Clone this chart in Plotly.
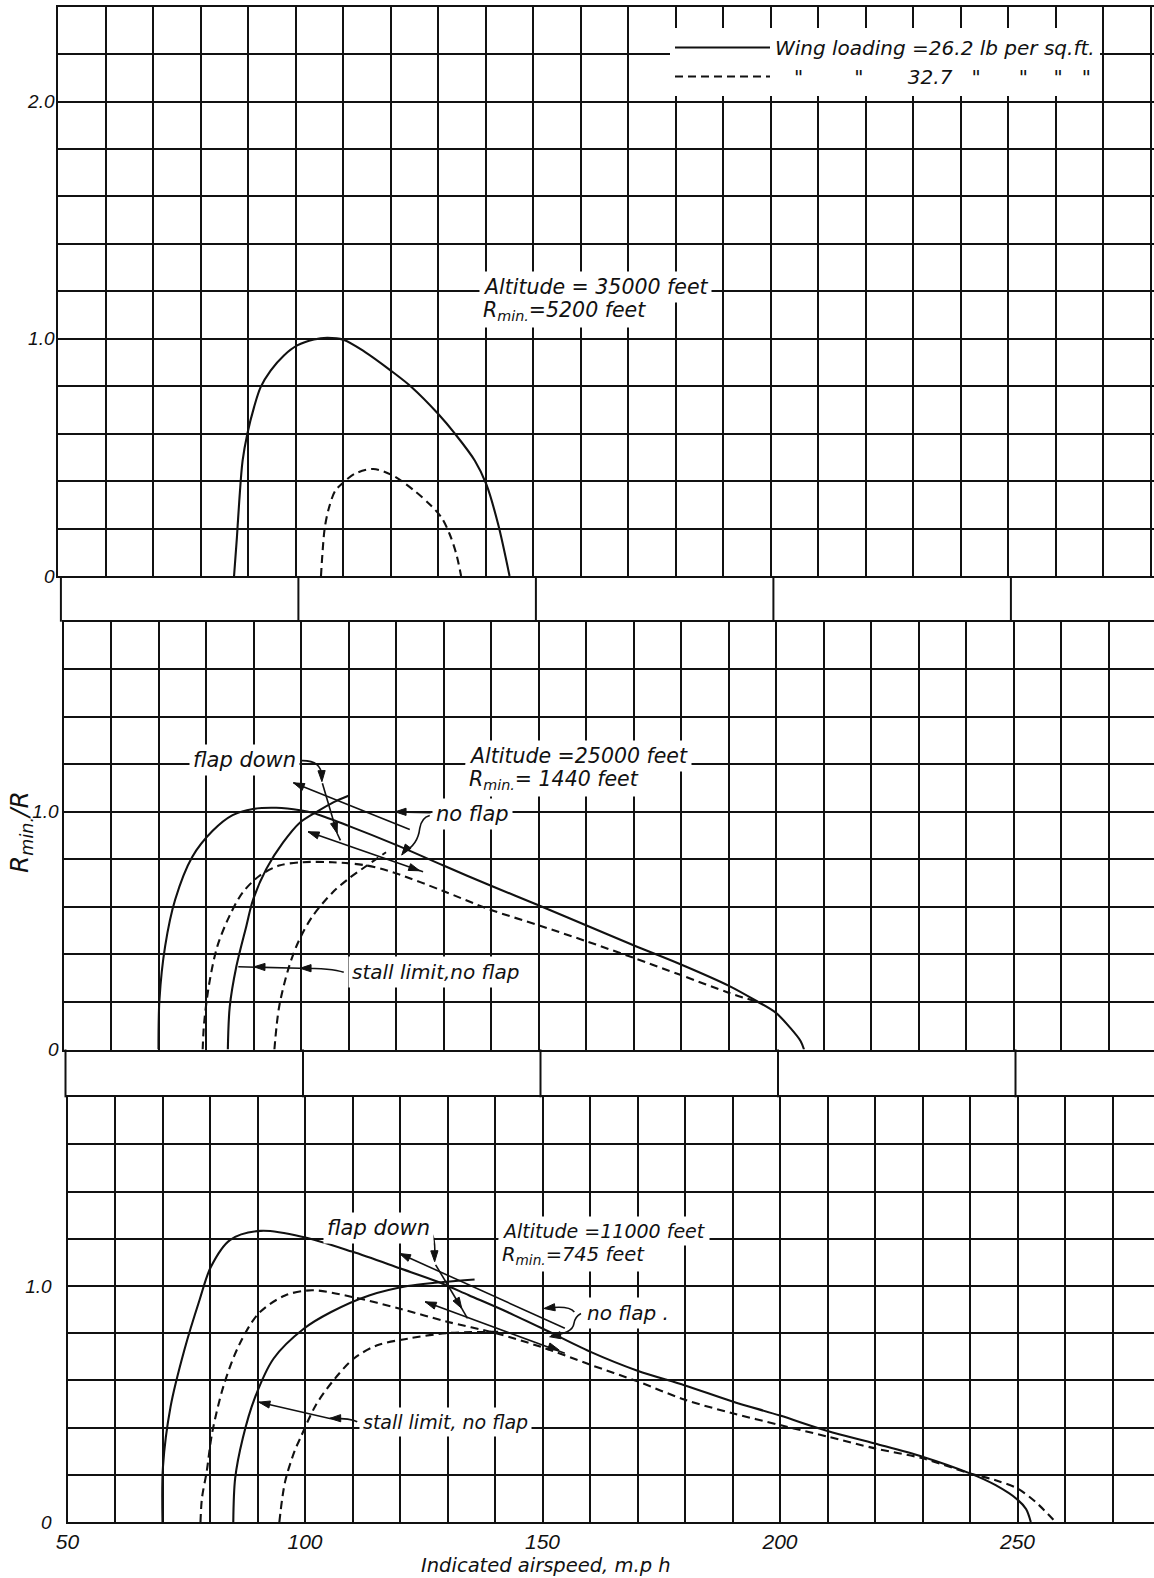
import math
import plotly.graph_objects as go

W, H = 1154, 1578

# ---------------- data ----------------
# Panel 1 : altitude 35000 ft
top_solid_x = [87.0, 87.6, 88.1, 88.8, 89.8, 91.2, 92.6, 94.7, 97.5, 100.3, 103.8, 106.6, 110.0, 114.6,
               120.0, 124.4, 130.0, 133.5, 137.7, 140.1, 142.6, 145.0]
top_solid_y = [0.0, 0.162, 0.317, 0.486, 0.6, 0.711, 0.796, 0.866, 0.93, 0.972, 0.997, 1.004, 0.996, 0.944,
               0.866, 0.796, 0.683, 0.6, 0.486, 0.387, 0.218, 0.0]
top_dash_x = [105.3, 105.6, 106.1, 107.0, 108.3, 110.0, 112.5, 116.3, 120.1, 125.0, 128.5, 130.7, 132.4, 133.8, 134.8]
top_dash_y = [0.0, 0.092, 0.204, 0.289, 0.359, 0.394, 0.432, 0.451, 0.427, 0.359, 0.296, 0.246, 0.176, 0.092, 0.0]

# Panel 2 : altitude 25000 ft
mid_solid_fd_x = [70.0, 70.2, 71.4, 73.5, 77.1, 81.4, 85.6, 89.9, 94.8, 99.8, 102.6, 110.0, 120.0, 130.0,
                  140.0, 150.0, 160.0, 170.0, 180.0, 190.0, 196.0, 200.0, 203.0, 205.2, 205.9]
mid_solid_fd_y = [0.0, 0.21, 0.435, 0.63, 0.81, 0.92, 0.986, 1.012, 1.017, 1.007, 0.995, 0.941, 0.861, 0.774,
                  0.689, 0.607, 0.523, 0.439, 0.358, 0.269, 0.203, 0.154, 0.091, 0.035, 0.0]
mid_solid_nf_x = [84.6, 85.0, 86.4, 88.5, 89.9, 92.7, 96.2, 99.8, 103.3, 106.8, 110.0]
mid_solid_nf_y = [0.0, 0.18, 0.35, 0.52, 0.63, 0.76, 0.87, 0.955, 1.0, 1.04, 1.068]
mid_dash_fd_x = [79.3, 79.6, 80.7, 82.4, 84.9, 87.7, 91.2, 95.4, 100.3, 106.6, 113.6, 119.3, 129.8, 139.6,
                 150.0, 160.0, 170.0, 180.0, 190.0, 196.8]
mid_dash_fd_y = [0.0, 0.11, 0.28, 0.435, 0.56, 0.66, 0.73, 0.774, 0.788, 0.788, 0.775, 0.746, 0.668, 0.59,
                 0.523, 0.456, 0.386, 0.313, 0.239, 0.196]
mid_dash_nf_x = [94.4, 95.4, 97.5, 99.6, 102.4, 106.6, 110.1, 113.6, 117.9]
mid_dash_nf_y = [0.0, 0.18, 0.35, 0.46, 0.56, 0.66, 0.72, 0.77, 0.83]

# Panel 3 : altitude 11000 ft
bot_solid_fd_x = [70.0, 70.1, 71.7, 74.6, 77.8, 80.2, 84.2, 90.7, 99.8, 109.9, 120.0, 128.1, 134.5,
                  142.6, 150.0, 160.0, 170.0, 180.0, 190.0, 200.0, 210.0, 220.0, 230.0, 240.0, 245.4,
                  250.0, 251.8, 252.8]
bot_solid_fd_y = [0.0, 0.234, 0.489, 0.729, 0.941, 1.082, 1.195, 1.234, 1.207, 1.146, 1.075, 1.017, 0.961,
                  0.89, 0.82, 0.722, 0.641, 0.579, 0.511, 0.451, 0.386, 0.333, 0.277, 0.206, 0.156,
                  0.095, 0.055, 0.0]
bot_solid_nf_x = [84.9, 85.3, 86.9, 89.4, 93.4, 99.8, 105.5, 113.5, 121.6, 127.3, 135.7]
bot_solid_nf_y = [0.0, 0.186, 0.355, 0.524, 0.693, 0.82, 0.89, 0.96, 1.0, 1.014, 1.028]
bot_dash_fd_x = [78.0, 78.3, 79.3, 80.5, 82.9, 86.1, 90.2, 95.8, 101.5, 109.9, 120.0, 129.7, 140.2, 150.0,
                 160.0, 170.0, 180.0, 190.0, 200.0, 210.0, 220.0, 230.0, 240.0, 245.4, 250.0, 253.8, 258.0]
bot_dash_fd_y = [0.0, 0.1, 0.214, 0.383, 0.58, 0.749, 0.883, 0.96, 0.982, 0.954, 0.904, 0.85, 0.8, 0.74,
                 0.667, 0.596, 0.518, 0.461, 0.411, 0.362, 0.312, 0.27, 0.206, 0.177, 0.142, 0.085, 0.0]
bot_dash_nf_x = [94.6, 95.8, 97.8, 99.0, 102.3, 106.3, 110.3, 115.2, 121.6, 129.7, 141.0]
bot_dash_nf_y = [0.0, 0.17, 0.3, 0.355, 0.496, 0.608, 0.693, 0.749, 0.777, 0.8, 0.806]

x_grid = list(range(50, 290, 10))
x_label_vals = [50, 100, 150, 200, 250]
x_label_text = ["50", "100", "150", "200", "250"]
y_grid_top = [round(0.2 * i, 1) for i in range(13)]
y_grid_low = [round(0.2 * i, 1) for i in range(10)]
y_label_vals_top = [0.0, 1.0, 2.0]
y_label_text_top = ["0", "1.0", "2.0"]
y_label_vals_low = [0.0, 1.0]
y_label_text_low = ["0", "1.0"]

NB = "\u00a0"
legend_solid = "Wing loading =26.2 lb per sq.ft."
legend_dash = (NB * 3 + '"' + NB * 8 + '"' + NB * 7 + "32.7" + NB * 3 + '"' + NB * 6 + '"'
               + NB * 4 + '"' + NB * 3 + '"')

# ---------------- geometry ----------------
PX_PER_MPH = 4.75
left_px = {"": 58.3, "2": 63.5, "3": 67.5}
ydom_px = {"": (6.7, 576.0), "2": (621.7, 1049.5), "3": (1097.3, 1522.0)}
Y_SCALE = {"": 237.2, "2": 237.7, "3": 236.0}

TFONT = "Liberation Sans"
AFONT = "DejaVu Sans"
BLACK = "#111111"

fig = go.Figure()

def curve(xs, ys, k, dashed, name=None, legend=False):
    fig.add_trace(go.Scatter(
        x=xs, y=ys, mode="lines", name=name, showlegend=legend,
        xaxis="x" + k, yaxis="y" + k,
        line=dict(color=BLACK, width=2.1, dash="8px,5px" if dashed else "solid",
                  shape="spline", smoothing=0.9),
        hoverinfo="skip"))

curve(top_solid_x, top_solid_y, "", False, legend_solid, True)
curve(top_dash_x, top_dash_y, "", True, legend_dash, True)
curve(mid_solid_fd_x, mid_solid_fd_y, "2", False)
curve(mid_solid_nf_x, mid_solid_nf_y, "2", False)
curve(mid_dash_fd_x, mid_dash_fd_y, "2", True)
curve(mid_dash_nf_x, mid_dash_nf_y, "2", True)
curve(bot_solid_fd_x, bot_solid_fd_y, "3", False)
curve(bot_solid_nf_x, bot_solid_nf_y, "3", False)
curve(bot_dash_fd_x, bot_dash_fd_y, "3", True)
curve(bot_dash_nf_x, bot_dash_nf_y, "3", True)

def grid_style(vals):
    return dict(tickmode="array", tickvals=vals, showgrid=True, gridcolor=BLACK,
                gridwidth=2, ticks="")

def xaxis(k, show_labels):
    l = left_px[k]
    return dict(
        domain=[l / W, 1.0], range=[50, 50 + (W - l) / PX_PER_MPH],
        tickmode="array", tickvals=x_label_vals, ticktext=x_label_text,
        showticklabels=show_labels, ticks="",
        tickfont=dict(family=TFONT, size=21, color=BLACK, style="italic"),
        automargin=False, minor=grid_style(x_grid),
        showgrid=True, gridcolor=BLACK, gridwidth=2,
        showline=True, linecolor=BLACK, linewidth=2, mirror=True,
        zeroline=False, fixedrange=True, anchor="y" + k)

def yaxis(k, grid, vals, texts, standoff):
    t, b = ydom_px[k]
    return dict(
        domain=[1 - b / H, 1 - t / H], range=[0, grid[-1]],
        tickmode="array", tickvals=vals, ticktext=texts, ticks="",
        tickfont=dict(family=TFONT, size=19, color=BLACK, style="italic"),
        ticklabelstandoff=standoff, automargin=False, minor=grid_style(grid),
        showgrid=True, gridcolor=BLACK, gridwidth=2,
        showline=True, linecolor=BLACK, linewidth=2, mirror=False,
        zeroline=False, fixedrange=True, anchor="x" + k)

fig.update_layout(
    width=W, height=H, margin=dict(l=0, r=0, t=0, b=0, autoexpand=False),
    paper_bgcolor="white", plot_bgcolor="white",
    xaxis=xaxis("", False),
    yaxis=yaxis("", y_grid_top, y_label_vals_top, y_label_text_top, -2),
    xaxis2=xaxis("2", False),
    yaxis2=yaxis("2", y_grid_low, y_label_vals_low, y_label_text_low, -1),
    xaxis3=xaxis("3", True),
    yaxis3=yaxis("3", y_grid_low, y_label_vals_low, y_label_text_low, 10),
    legend=dict(x=670 / W, y=1 - 28 / H, xanchor="left", yanchor="top",
                bgcolor="white", borderwidth=0, itemwidth=95,
                font=dict(family=AFONT, size=20, color=BLACK, style="italic"),
                tracegroupgap=0),
    showlegend=True,
)

shapes = []
# vertical rules crossing the white bands between panels
for (ytop, ybot, off) in [(576.0, 621.7, 60.9), (1049.5, 1097.3, 65.5)]:
    for xv in [50, 100, 150, 200, 250]:
        xp = (off + (xv - 50) * PX_PER_MPH) / W
        shapes.append(dict(type="line", xref="paper", yref="paper", x0=xp, x1=xp,
                           y0=1 - ybot / H, y1=1 - ytop / H,
                           line=dict(color=BLACK, width=2)))

def path(k, d):
    shapes.append(dict(type="path", xref="x" + k, yref="y" + k, path=d,
                       line=dict(color=BLACK, width=1.6)))

def arrow(k, head, tail, line=True, L=11.0, w=3.6):
    """Leader line with a filled arrow head, sized in screen pixels."""
    ys = Y_SCALE[k]
    hx, hy = head[0] * PX_PER_MPH, head[1] * ys
    tx, ty = tail[0] * PX_PER_MPH, tail[1] * ys
    dx, dy = tx - hx, ty - hy
    n = math.hypot(dx, dy)
    ux, uy = dx / n, dy / n
    bx, by = hx + ux * L, hy + uy * L
    px, py = -uy, ux
    p1 = ((bx + px * w) / PX_PER_MPH, (by + py * w) / ys)
    p2 = ((bx - px * w) / PX_PER_MPH, (by - py * w) / ys)
    if line:
        shapes.append(dict(type="line", xref="x" + k, yref="y" + k,
                           x0=head[0], y0=head[1], x1=tail[0], y1=tail[1],
                           line=dict(color=BLACK, width=1.6)))
    shapes.append(dict(type="path", xref="x" + k, yref="y" + k,
                       path=f"M {head[0]},{head[1]} L {p1[0]},{p1[1]} L {p2[0]},{p2[1]} Z",
                       fillcolor=BLACK, line=dict(color=BLACK, width=1)))

annotations = []
afont = dict(family=AFONT, size=21, color=BLACK, style="italic")

def text(k, x, y, s, size=21, anchor="left"):
    annotations.append(dict(x=x, y=y, xref="x" + k, yref="y" + k, text=s, showarrow=False,
                            xanchor=anchor, yanchor="middle", bgcolor="white", borderpad=3,
                            font=dict(afont, size=size)))

# Panel 1 labels
text("", 138.6, 1.218, "Altitude = 35000 feet", size=20.5)
text("", 138.6, 1.117, "R<sub>min.</sub>=5200 feet", size=20.5)

# Panel 2 labels and leaders
text("2", 134.6, 1.235, "Altitude =25000 feet", size=20.5)
text("2", 134.6, 1.134, "R<sub>min.</sub>= 1440 feet", size=20.5)
text("2", 88.0, 1.218, "flap down", size=21, anchor="center")
text("2", 127.6, 0.99, "no flap")
text("2", 109.8, 0.327, "stall limit,no flap", size=20)
arrow("2", (98.4, 1.122), (122.9, 0.926))
arrow("2", (101.5, 0.916), (125.7, 0.748))
arrow("2", (125.0, 0.752), (122.5, 0.770), line=False)
path("2", "M 99.8,1.215 Q 104.6,1.22 104.4,1.14")
arrow("2", (104.4, 1.127), (104.35, 1.16), line=False)
arrow("2", (107.6, 0.91), (104.5, 1.12))
path("2", "M 107.6,0.91 L 108.3,0.88")
path("2", "M 127.3,0.996 L 119.8,1.0")
arrow("2", (119.8, 1.0), (121.5, 1.0), line=False)
path("2", "M 127.1,0.985 Q 125.3,0.975 125.0,0.93 Q 124.6,0.86 121.6,0.83")
arrow("2", (121.2, 0.818), (122.0, 0.84), line=False)
path("2", "M 109.0,0.325 Q 106.5,0.342 99.8,0.342 L 86.8,0.348")
arrow("2", (99.8, 0.342), (102.5, 0.342), line=False)
arrow("2", (90.1, 0.348), (92.8, 0.347), line=False)

# Panel 3 labels and leaders
text("3", 140.6, 1.233, "Altitude =11000 feet", size=19)
text("3", 140.6, 1.131, "R<sub>min.</sub>=745 feet", size=19.5)
text("3", 115.4, 1.246, "flap down", size=21, anchor="center")
text("3", 158.6, 0.886, "no flap .", size=20)
text("3", 111.4, 0.424, "stall limit, no flap", size=19)
arrow("3", (119.9, 1.138), (154.7, 0.821))
arrow("3", (125.3, 0.933), (154.7, 0.715))
arrow("3", (153.5, 0.729), (150.5, 0.75), line=False)
path("3", "M 125.4,1.244 Q 127.6,1.24 127.3,1.12")
arrow("3", (127.3, 1.103), (127.25, 1.14), line=False)
arrow("3", (133.0, 0.905), (127.5, 1.09))
path("3", "M 133.0,0.905 L 134.2,0.863")
path("3", "M 158.1,0.884 Q 156.8,0.87 156.6,0.84 Q 156.3,0.80 151.8,0.79")
path("3", "M 156.7,0.89 Q 155.5,0.92 150.6,0.905")
arrow("3", (150.3, 0.905), (152.5, 0.91), line=False)
arrow("3", (151.5, 0.785), (153.2, 0.79), line=False)
path("3", "M 111.0,0.425 Q 109.5,0.44 105.2,0.439 L 89.9,0.51")
arrow("3", (105.2, 0.439), (108.0, 0.44), line=False)
arrow("3", (90.3, 0.508), (93.0, 0.496), line=False)

# axis titles
annotations.append(dict(x=546 / W, y=1 - 1565 / H, xref="paper", yref="paper",
                        text="Indicated airspeed, m.p h", showarrow=False,
                        xanchor="center", yanchor="middle", font=dict(afont, size=19.5)))
annotations.append(dict(x=21 / W, y=1 - 832 / H, xref="paper", yref="paper",
                        text="R<sub>min.</sub>/R", showarrow=False, textangle=-90,
                        xanchor="center", yanchor="middle", font=dict(afont, size=25)))

fig.update_layout(shapes=shapes, annotations=annotations)

fig.write_html("out.html")
